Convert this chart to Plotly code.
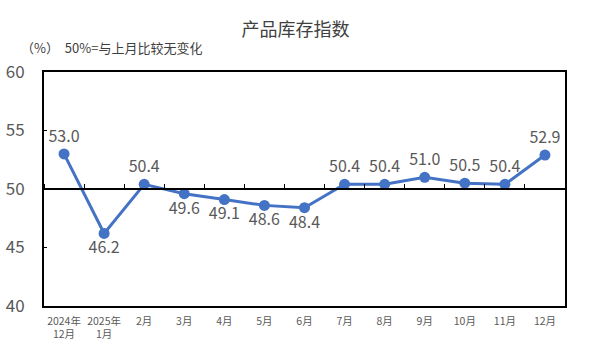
import plotly.graph_objects as go

categories = ["2024年<br>12月", "2025年<br>1月", "2月", "3月", "4月", "5月", "6月",
              "7月", "8月", "9月", "10月", "11月", "12月"]
values = [53.0, 46.2, 50.4, 49.6, 49.1, 48.6, 48.4, 50.4, 50.4, 51.0, 50.5, 50.4, 52.9]
label_pos = ["top center", "bottom center", "top center", "bottom center", "bottom center",
             "bottom center", "bottom center", "top center", "top center", "top center",
             "top center", "top center", "top center"]
y_ticks = [40, 45, 50, 55, 60]

fig = go.Figure()
fig.add_trace(go.Scatter(
    x=categories, y=values, mode="lines+markers+text",
    line=dict(color="#4472C4", width=3),
    marker=dict(color="#4472C4", size=11),
    text=[f"{v:.1f}" for v in values], textposition=label_pos,
    textfont=dict(size=16, color="#595959", family="Noto Sans CJK SC"),
    cliponaxis=False, showlegend=False,
))
fig.add_trace(go.Scatter(x=categories, y=[None]*len(categories), xaxis="x2",
                         showlegend=False, hoverinfo="skip"))

xr = [-0.5, len(categories) - 0.5]
fig.update_layout(
    width=591, height=354,
    margin=dict(l=44, r=26, t=72, b=48),
    paper_bgcolor="white", plot_bgcolor="white",
    title=dict(text="产品库存指数", x=0.5, xanchor="center", y=0.915, yanchor="middle",
               font=dict(size=18, color="#404040", family="Noto Sans CJK SC")),
    xaxis=dict(type="category", range=xr, showline=True, linecolor="black", linewidth=2,
               mirror=True, showgrid=False, ticks="", tickangle=0, automargin=False,
               ticklabelstandoff=4,
               tickfont=dict(size=10.5, color="#595959", family="Noto Sans CJK SC")),
    xaxis2=dict(type="category", range=xr, overlaying="x", anchor="free", position=0.5,
                side="top", showline=True, linecolor="black", linewidth=2, showgrid=False,
                ticks="outside", ticklen=4, tickcolor="black", tickson="boundaries",
                showticklabels=False, automargin=False),
    yaxis=dict(range=[40, 60], tickvals=y_ticks, showline=True, linecolor="black",
               linewidth=2, mirror=True, showgrid=False, ticks="inside", ticklen=3,
               tickcolor="black", zeroline=False, ticklabelstandoff=14, automargin=False,
               tickfont=dict(size=17, color="#595959", family="Noto Sans CJK SC")),
    annotations=[dict(text="（%）  50%=与上月比较无变化", xref="paper", yref="paper",
                      x=-0.048, y=1.105, xanchor="left", yanchor="middle", showarrow=False,
                      font=dict(size=13, color="#404040", family="Noto Sans CJK SC"))],
)

fig.write_html("out.html")
